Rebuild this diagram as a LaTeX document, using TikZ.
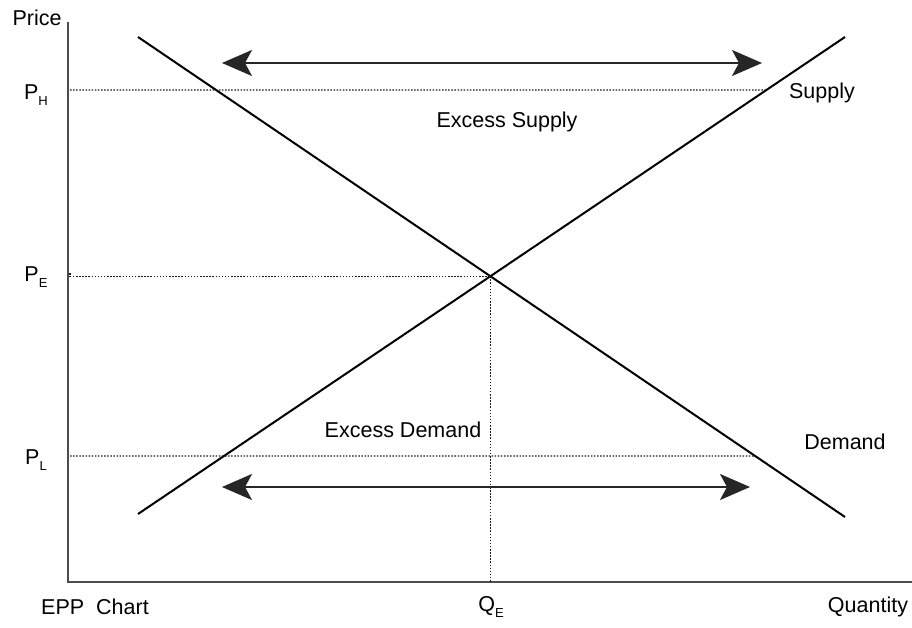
\documentclass[tikz,border=0pt]{standalone}
\usepackage{fontspec}
\setmainfont{Liberation Sans}
\usetikzlibrary{arrows.meta}
\newcommand{\sbs}[1]{\raisebox{-6pt}{\fontsize{13}{13}\selectfont #1}}
\tikzset{
  lbl/.style={font=\fontsize{21.5}{21.5}\selectfont, inner sep=0pt},
  axis/.style={draw=black!70, line width=2.2pt},
  curve/.style={draw=black, line width=2pt},
  guide/.style={draw=black!90, line width=1.4pt, dash pattern=on 1.5pt off 1.6pt},
  dbl/.style={draw=black!85, line width=2pt, {Stealth[length=30pt,width=26pt,inset=7pt]}-{Stealth[length=30pt,width=26pt,inset=7pt]}}
}
\begin{document}
\begin{tikzpicture}[x=1pt,y=-1pt]
\useasboundingbox (0,0) rectangle (912,628);
% axes
\coordinate (ytop) at (68,22);
\coordinate (orig) at (68,582);
\coordinate (xend) at (912,582);
\draw[axis] (ytop) -- (orig) -- (xend);
% curves
\coordinate (d1) at (138,37);
\coordinate (d2) at (845,517);
\coordinate (s1) at (138,514);
\coordinate (s2) at (845,37);
\draw[curve] (d1) -- (d2);
\draw[curve] (s1) -- (s2);
% equilibrium
\coordinate (eq) at (intersection of d1--d2 and s1--s2);
% guides
\coordinate (ph0) at (70,90);
\coordinate (ph1) at (intersection of 70,90--900,90 and s1--s2);
\coordinate (pe0) at (70,273);
\coordinate (pl0) at (70,456);
\coordinate (pl1) at (intersection of 70,456--900,456 and d1--d2);
\coordinate (qe0) at (eq |- orig);
\draw[guide] (ph0) -- (ph1);
\draw[guide] (pe0) -- (eq -| pe0) -- (eq);
\draw[guide] (eq) -- (qe0);
\draw[guide] (pl0) -- (pl1);
% arrows
\coordinate (a1) at (222,63);
\coordinate (a2) at (762,63);
\coordinate (b1) at (222,487);
\coordinate (b2) at (750,487);
\draw[dbl] (a1) -- (a2);
\draw[dbl] (b1) -- (b2);
% labels
\node[lbl] (price) at (37,18) {Price};
\node[lbl] (ph) at (36,95) {P\sbs{H}};
\node[lbl] (pe) at (36,277) {P\sbs{E}};
\node[lbl] (pl) at (36,460) {P\sbs{L}};
\node[lbl] (epp) at (95,607) {EPP\ \ Chart};
\node[lbl] (qe) at (491,607) {Q\sbs{E}};
\node[lbl] (qty) at (868,607) {Quantity};
\node[lbl] (sup) at (822,93) {Supply};
\node[lbl] (dem) at (845,442) {Demand};
\node[lbl] (exs) at (507,122) {Excess Supply};
\node[lbl] (exd) at (403,430) {Excess Demand};
\end{tikzpicture}
\end{document}
